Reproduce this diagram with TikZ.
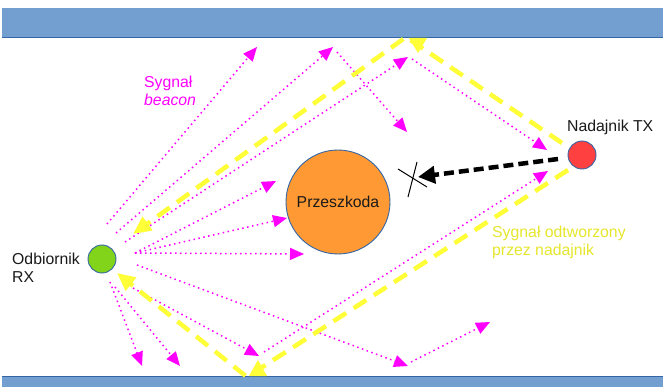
\documentclass[tikz,border=0pt]{standalone}
\usepackage{fontspec}
\setmainfont{Liberation Sans}
\usetikzlibrary{arrows.meta,calc}
\definecolor{wallfill}{HTML}{729FCF}
\definecolor{wallline}{HTML}{3465A4}
\definecolor{beacon}{HTML}{FF00FF}
\definecolor{relay}{HTML}{FFFF38}
\definecolor{relaytext}{HTML}{E6E62C}
\definecolor{rxgreen}{HTML}{81D41A}
\definecolor{txred}{HTML}{FF4040}
\definecolor{obstfill}{HTML}{FF9933}
\definecolor{inktext}{HTML}{1A1A1A}

\begin{document}
\begin{tikzpicture}[x=1pt,y=-1pt,
  wall/.style={fill=wallfill},
  walledge/.style={draw=wallline,line width=0.9pt},
  station/.style={circle,draw=wallline,line width=0.9pt,minimum size=28pt,inner sep=0pt},
  txt/.style={font=\fontsize{15.8}{18}\selectfont,align=left,inner sep=0pt,anchor=west},
  ray/.style={beacon,line width=1.5pt,dash pattern=on 1.5pt off 3.5pt,
    -{Triangle[length=14pt,width=12pt]}},
  relaypath/.style={relay,line width=4.5pt,dash pattern=on 15pt off 9pt,
    -{Triangle[length=18pt,width=16pt]}},
  blocked/.style={black,line width=4.5pt,dash pattern=on 10pt off 5pt,
    -{Triangle[length=17pt,width=17pt]}},
  crossmark/.style={black,line width=1pt}
]
\useasboundingbox (0,0) rectangle (663,387);

% walls: filled bands with a darker edge on the room side
\fill[white] (0,0) rectangle (663,387);
\fill[wall] (2,8) rectangle (670,37);
\draw[walledge] (2,37) -- (670,37);
\fill[wall] (2,376) rectangle (670,395);
\draw[walledge] (2,376) -- (670,376);

% stations and obstacle
\node[station,fill=rxgreen] (rx) at (102,259) {};
\node[station,fill=txred] (tx) at (582,155) {};
\node[circle,draw=wallline,line width=0.9pt,fill=obstfill,minimum size=104pt,inner sep=0pt,
      font=\fontsize{15.8}{18}\selectfont,text=inktext] (obst) at (338,202) {Przeszkoda};

% labels
\node[txt,text=inktext] (txlabel) at (567,127) {Nadajnik TX};
\node[txt,text=inktext] (rxlabel) at (12,268) {Odbiornik\\RX};
\node[txt,text=beacon] (beaconlabel) at (144,91) {Sygnał\\\textit{beacon}};
\node[txt,text=relaytext] (relaylabel) at (492,242) {Sygnał odtworzony\\przez nadajnik};

% beacon ray points
\coordinate (a0) at (107,224);  \coordinate (a1) at (257,47);
\coordinate (b0) at (116,233);  \coordinate (b1) at (333,47);
\coordinate (b2) at (337,52);   \coordinate (b3) at (407,132);
\coordinate (c0) at (125,242);  \coordinate (c1) at (408,57);
\coordinate (c2) at (412,59);   \coordinate (c3) at (547,150);
\coordinate (f0) at (135,253);
\coordinate (i1) at (276,181);
\coordinate (j1) at (287,218);
\coordinate (k1) at (304,254);
\coordinate (h0) at (137,265);  \coordinate (h1) at (408,366);
\coordinate (h2) at (411,362);  \coordinate (h3) at (490,322);
\coordinate (e0) at (110,282);  \coordinate (e1) at (142,366);
\coordinate (g0) at (115,287);  \coordinate (g1) at (180,366);
\coordinate (m0) at (133,288);  \coordinate (m1) at (259,356);
\coordinate (m2) at (264,352);  \coordinate (m3) at (548,171);

% beacon rays
\draw[ray] (a0) -- (a1);
\draw[ray] (b0) -- (b1);
\draw[ray] (b2) -- (b3);
\draw[ray] (c0) -- (c1);
\draw[ray] (c2) -- (c3);
\draw[ray] (f0) -- (i1);
\draw[ray] (f0) -- (j1);
\draw[ray] (f0) -- (k1);
\draw[ray] (h0) -- (h1);
\draw[ray] (h2) -- (h3);
\draw[ray] (e0) -- (e1);
\draw[ray] (g0) -- (g1);
\draw[ray] (m0) -- (m1);
\draw[ray] (m2) -- (m3);

% relayed signal via the walls
\coordinate (ru0) at (562,143); \coordinate (ru1) at (406,37); \coordinate (ru2) at (133,234);
\coordinate (rd0) at (568,170); \coordinate (rd1) at (247,377); \coordinate (rd2) at (117,273);
\draw[relaypath] (ru0) -- (ru1) -- (ru2);
\draw[relaypath] (rd0) -- (rd1) -- (rd2);
\fill[relay] (409,38) -- (427,38) -- (418,53) -- cycle;
\fill[relay] (249,376) -- (267,376) -- (258,360) -- cycle;

% blocked direct path
\coordinate (bk0) at (558,159); \coordinate (bk1) at (418,177);
\draw[blocked] (bk0) -- (bk1);
\coordinate (x1) at (417,162); \coordinate (x2) at (408,197);
\coordinate (x3) at (398,169); \coordinate (x4) at (427,187);
\draw[crossmark] (x1) -- (x2);
\draw[crossmark] (x3) -- (x4);
\end{tikzpicture}
\end{document}
